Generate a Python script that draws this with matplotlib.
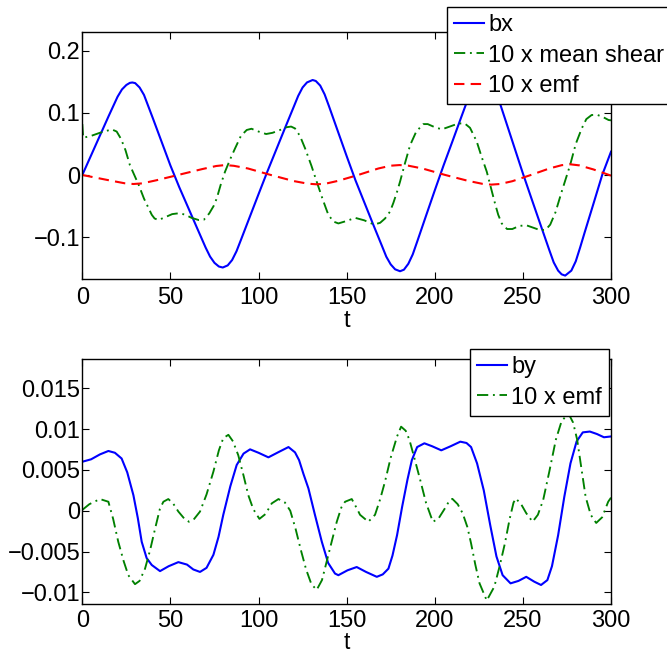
import matplotlib
matplotlib.use("Agg")
import matplotlib.pyplot as plt

plt.rcParams['font.family'] = ['Liberation Sans', 'DejaVu Sans']

# ---------------- data ----------------
x_ticks = [0, 50, 100, 150, 200, 250, 300]
x_tick_labels = ['0', '50', '100', '150', '200', '250', '300']

top_y_ticks = [0.2, 0.1, 0.0, -0.1]
top_y_tick_labels = ['0.2', '0.1', '0', '\u22120.1']
bot_y_ticks = [0.015, 0.01, 0.005, 0.0, -0.005, -0.01]
bot_y_tick_labels = ['0.015', '0.01', '0.005', '0', '\u22120.005', '\u22120.01']

top_labels = ['bx', '10 x mean shear', '10 x emf']
bot_labels = ['by', '10 x emf']

# top panel: bx
t_bx = [0, 5, 10, 15, 20, 22.5, 25, 27, 28.4, 30, 32.5, 35, 40, 45, 50, 55, 60, 65,
        70, 72.5, 75, 77.5, 79.7, 82.5, 85, 87.5, 90, 95, 100, 105, 110, 115, 120,
        122.5, 125, 127.5, 130.7, 132.5, 135, 137.5, 140, 145, 150, 155, 160, 165,
        170, 172.5, 175, 177.5, 180.3, 182.5, 185, 187.5, 190, 195, 200, 205, 210,
        215, 220, 222.5, 225, 228, 230, 232.5, 235, 237.5, 240, 245, 250, 255, 260,
        265, 267.5, 270, 272, 274, 277.5, 280, 282.5, 285, 290, 295, 300]
bx = [0, 0.0317, 0.0635, 0.0952, 0.126, 0.1378, 0.145, 0.1484, 0.149, 0.148, 0.141,
      0.129, 0.0917, 0.0535, 0.0153, -0.0195, -0.052, -0.0846, -0.117, -0.1314,
      -0.1415, -0.1474, -0.149, -0.1456, -0.137, -0.1228, -0.1046, -0.0677, -0.0309,
      0.0055, 0.0405, 0.0755, 0.110, 0.1274, 0.141, 0.1491, 0.153, 0.1514, 0.144,
      0.1299, 0.1106, 0.0705, 0.0305, -0.0085, -0.0439, -0.0793, -0.114, -0.1316,
      -0.144, -0.1519, -0.155, -0.1525, -0.143, -0.1279, -0.1075, -0.066, -0.0248,
      0.0155, 0.054, 0.093, 0.1315, 0.1465, 0.156, 0.160, 0.158, 0.1486, 0.1325,
      0.111, 0.0894, 0.046, 0.0026, -0.0389, -0.080, -0.121, -0.1408, -0.154, -0.160,
      -0.162, -0.154, -0.139, -0.1166, -0.093, -0.0467, 0.0, 0.0375]

# top panel: 10 x mean shear
t_shear = [0, 0.5, 5, 10, 16.7, 19.5, 22, 24.5, 27, 29.5, 32, 35, 39.4, 41, 43.2, 47,
           51, 54.5, 58, 62, 66, 69, 72, 74.5, 76.3, 78.5, 81, 84, 86.7, 90, 93.3, 96,
           100, 104.3, 108, 112.2, 116, 118.5, 120.7, 123.5, 126.4, 130, 133, 136.5,
           139.6, 142.5, 145.3, 150, 154.8, 160, 164, 166.5, 169, 171.8, 174.6, 176.5,
           178.6, 180.3, 183, 186, 189.5, 193.5, 196, 200, 204, 208.5, 213.4, 217,
           220, 223.8, 226.5, 229.5, 232, 234.2, 236, 238, 241, 244, 248, 252, 256,
           260, 263, 265.5, 268.5, 272, 276.8, 280, 283.4, 286, 289, 292, 295, 298.6,
           300]
shear = [0.082, 0.060, 0.063, 0.068, 0.0735, 0.070, 0.058, 0.040, 0.016, 0.0, -0.016,
         -0.038, -0.064, -0.070, -0.0725, -0.068, -0.063, -0.0617, -0.0635, -0.069,
         -0.0725, -0.072, -0.062, -0.050, -0.0376, -0.016, 0.0054, 0.026, 0.043, 0.063,
         0.0725, 0.0745, 0.070, 0.066, 0.068, 0.0725, 0.077, 0.078, 0.075, 0.063,
         0.043, 0.015, -0.0107, -0.040, -0.064, -0.075, -0.078, -0.074, -0.069,
         -0.073, -0.078, -0.079, -0.077, -0.070, -0.059, -0.045, -0.027, -0.0107,
         0.018, 0.048, 0.070, 0.082, 0.082, 0.077, 0.0735, 0.078, 0.083, 0.083, 0.076,
         0.054, 0.030, 0.0054, -0.022, -0.046, -0.064, -0.078, -0.087, -0.087, -0.082,
         -0.081, -0.085, -0.089, -0.088, -0.080, -0.060, -0.027, 0.016, 0.050, 0.075,
         0.090, 0.0966, 0.097, 0.094, 0.0886, 0.088]

# top panel: 10 x emf
t_emf1 = [0, 8, 16, 24, 29, 34, 42, 55, 68, 76, 81, 86, 94, 107, 120, 128, 133, 138,
          145, 156.5, 168, 175, 180, 185, 193, 206, 219, 227, 232, 237, 244, 254.5,
          265, 272, 277, 282, 290, 300]
emf1 = [0, -0.0045, -0.009, -0.0133, -0.0145, -0.0135, -0.0085, 0.0005, 0.0095,
        0.0145, 0.016, 0.0148, 0.0105, 0.0, -0.0098, -0.014, -0.015, -0.014, -0.0095,
        0.0, 0.0105, 0.015, 0.016, 0.015, 0.0105, 0.0, -0.0095, -0.0142, -0.0155,
        -0.0145, -0.010, 0.0, 0.0105, 0.0158, 0.0172, 0.0155, 0.009, -0.001]

# bottom panel: by
t_by = [0, 5, 10, 14.8, 18.5, 22.3, 25.5, 29, 31.5, 33.7, 36.5, 39.4, 44.1, 49, 54.5,
        59.4, 63, 66.8, 70.5, 74.4, 77.3, 80, 84, 87.6, 91.5, 95.2, 100, 105.6, 111.5,
        117, 120.7, 123, 125.5, 128.3, 132, 135.9, 139.5, 143.4, 145.3, 150.5, 155.7,
        161, 167.1, 170.5, 173.7, 176, 178.6, 181.5, 184.5, 187, 190, 194.1, 198.5,
        203.7, 209, 214.5, 218, 220.6, 224, 227.8, 231.5, 235, 238.5, 243, 247.5,
        251.9, 256.5, 260.3, 263.9, 266.5, 270, 273.5, 277, 280.5, 284, 288, 292, 296,
        300]
by = [0.0060, 0.0063, 0.0069, 0.00732, 0.0071, 0.0064, 0.0047, 0.0019, -0.0009,
      -0.0038, -0.0058, -0.00665, -0.0074, -0.0068, -0.0063, -0.0066, -0.0072,
      -0.0075, -0.0070, -0.0054, -0.0032, -0.0005, 0.0030, 0.0056, 0.0070, 0.00752,
      0.0071, 0.00654, 0.0072, 0.0078, 0.00715, 0.0062, 0.0045, 0.00274, -0.0005,
      -0.0038, -0.0064, -0.0077, -0.0079, -0.0073, -0.0069, -0.0075, -0.0081,
      -0.0078, -0.0071, -0.0055, -0.003, 0.0005, 0.0038, 0.0062, 0.0078, 0.00826,
      0.0079, 0.0074, 0.0079, 0.00846, 0.0083, 0.0078, 0.0058, 0.0025, -0.0018,
      -0.0056, -0.0079, -0.0089, -0.0086, -0.0081, -0.0087, -0.0091, -0.0085,
      -0.0068, -0.0030, 0.0017, 0.0058, 0.0085, 0.0096, 0.0097, 0.0094, 0.0090,
      0.0091]

# bottom panel: 10 x emf
t_emf2 = [0, 4, 10, 14.8, 17.5, 20.4, 23.5, 26.1, 29.9, 32.5, 35.6, 38.5, 41.3, 44,
          46, 48.8, 51.5, 54.5, 58, 60.5, 63.5, 66.8, 70.5, 74.4, 77.5, 80, 82.9,
          85.5, 88.5, 91.5, 94.2, 97, 100.5, 104, 107.5, 111.3, 115, 118, 121, 124,
          127, 130, 133, 136, 138.7, 141.5, 144.4, 147, 149.1, 152.9, 155.5, 157.6,
          162.3, 166.1, 169, 171.8, 175, 178.6, 180.9, 183.5, 185.6, 188.5, 191.7,
          195, 198.9, 202, 205.5, 208.5, 210, 213, 215.8, 218.5, 220.6, 223, 225.4,
          229.5, 233.8, 236.8, 239.8, 242.5, 244.7, 246, 249, 251.9, 255.5, 258.5,
          261.5, 265, 268.7, 272, 275.9, 278.5, 280.8, 283.2, 285.6, 288.5, 291.6,
          295, 298.4, 300]
emf2 = [0.0001, 0.0008, 0.00143, 0.0011, -0.0010, -0.0038, -0.0062, -0.0079, -0.0090,
        -0.0086, -0.0071, -0.0048, -0.0022, 0.0002, 0.0011, 0.00143, 0.0009, -0.0001,
        -0.0010, -0.00135, -0.0010, -0.0001, 0.0020, 0.0048, 0.0074, 0.0089, 0.0093,
        0.0085, 0.0068, 0.0043, 0.0019, 0.0002, -0.0010, -0.0004, 0.0009, 0.00143,
        0.0010, 0.0000, -0.0022, -0.0048, -0.0072, -0.0090, -0.0097, -0.0085,
        -0.0062, -0.0038, -0.00135, 0.0004, 0.0011, 0.00143, 0.0004, -0.0005,
        -0.00135, -0.0005, 0.0014, 0.0036, 0.0065, 0.0091, 0.0103, 0.0098, 0.0087,
        0.0064, 0.0038, 0.0010, -0.00135, -0.0010, 0.0002, 0.0013, 0.00145, 0.0008,
        -0.0003, -0.0020, -0.0040, -0.0066, -0.0089, -0.0110, -0.0093, -0.0068,
        -0.0040, -0.0010, 0.0010, 0.0015, 0.0008, -0.0003, -0.00135, -0.0005, 0.0013,
        0.0048, 0.0087, 0.0110, 0.0119, 0.0108, 0.0087, 0.0052, 0.0017, -0.0005,
        -0.0015, -0.0008, 0.0011, 0.0016]

# ---------------- styling ----------------
W, H = 667, 654
BLUE = (0, 0, 1)
GREEN = (0, 0.5, 0)
RED = (1, 0, 0)
FS = 17
LW = 1.5
DASHDOT = (0, (6, 2.5, 1, 2.5))
DASHED = (0, (5, 3))

fig = plt.figure(figsize=(W / 100, H / 100), dpi=100)

def px_axes(x0, y0, x1, y1):
    return fig.add_axes([x0 / W, 1 - y1 / H, (x1 - x0) / W, (y1 - y0) / H])

ax1 = px_axes(82.3, 31.7, 611, 279)
ax2 = px_axes(82.3, 359, 611, 604)

l1, = ax1.plot(t_bx, bx, color=BLUE, lw=LW, label=top_labels[0])
l2, = ax1.plot(t_shear, shear, color=GREEN, lw=LW * 0.9, linestyle=DASHDOT, label=top_labels[1])
l3, = ax1.plot(t_emf1, emf1, color=RED, lw=LW, linestyle=DASHED, label=top_labels[2])
ax1.set_ylim(-0.1675, 0.2308)
ax1.set_yticks(top_y_ticks)
ax1.set_yticklabels(top_y_tick_labels)

m1, = ax2.plot(t_by, by, color=BLUE, lw=LW, label=bot_labels[0])
m2, = ax2.plot(t_emf2, emf2, color=GREEN, lw=LW * 0.9, linestyle=DASHDOT, label=bot_labels[1])
ax2.set_ylim(-0.01143, 0.01859)
ax2.set_yticks(bot_y_ticks)
ax2.set_yticklabels(bot_y_tick_labels)

for ax in (ax1, ax2):
    ax.set_xlim(0, 300)
    ax.set_xticks(x_ticks)
    ax.set_xticklabels(x_tick_labels)
    ax.tick_params(direction='in', top=True, right=True, length=5, width=0.8,
                   labelsize=FS, colors='black')
    ax.tick_params(axis='y', pad=1.5)
    for s in ax.spines.values():
        s.set_linewidth(1.0)

ax1.tick_params(axis='x', pad=6)
ax2.tick_params(axis='x', pad=4.5)
ax1.set_xlabel('t', fontsize=FS, labelpad=0.5)
ax2.set_xlabel('t', fontsize=16.5, labelpad=-0.6)

leg_kw = dict(fontsize=FS, frameon=True, fancybox=False, shadow=False, framealpha=1,
              edgecolor='black', borderaxespad=0, handlelength=1.27,
              handletextpad=0.18, borderpad=0.3, labelspacing=0.36,
              bbox_transform=fig.transFigure)
lg1 = ax1.legend(handles=[l1, l2, l3], loc='upper left',
                 bbox_to_anchor=(447 / W, 1 - 7 / H), **leg_kw)
lg1.get_frame().set_linewidth(1.0)
lg2 = ax2.legend(handles=[m1, m2], loc='upper right',
                 bbox_to_anchor=(609 / W, 1 - 349 / H), **leg_kw)
lg2.get_frame().set_linewidth(1.0)

fig.savefig('out.png', dpi=100)
